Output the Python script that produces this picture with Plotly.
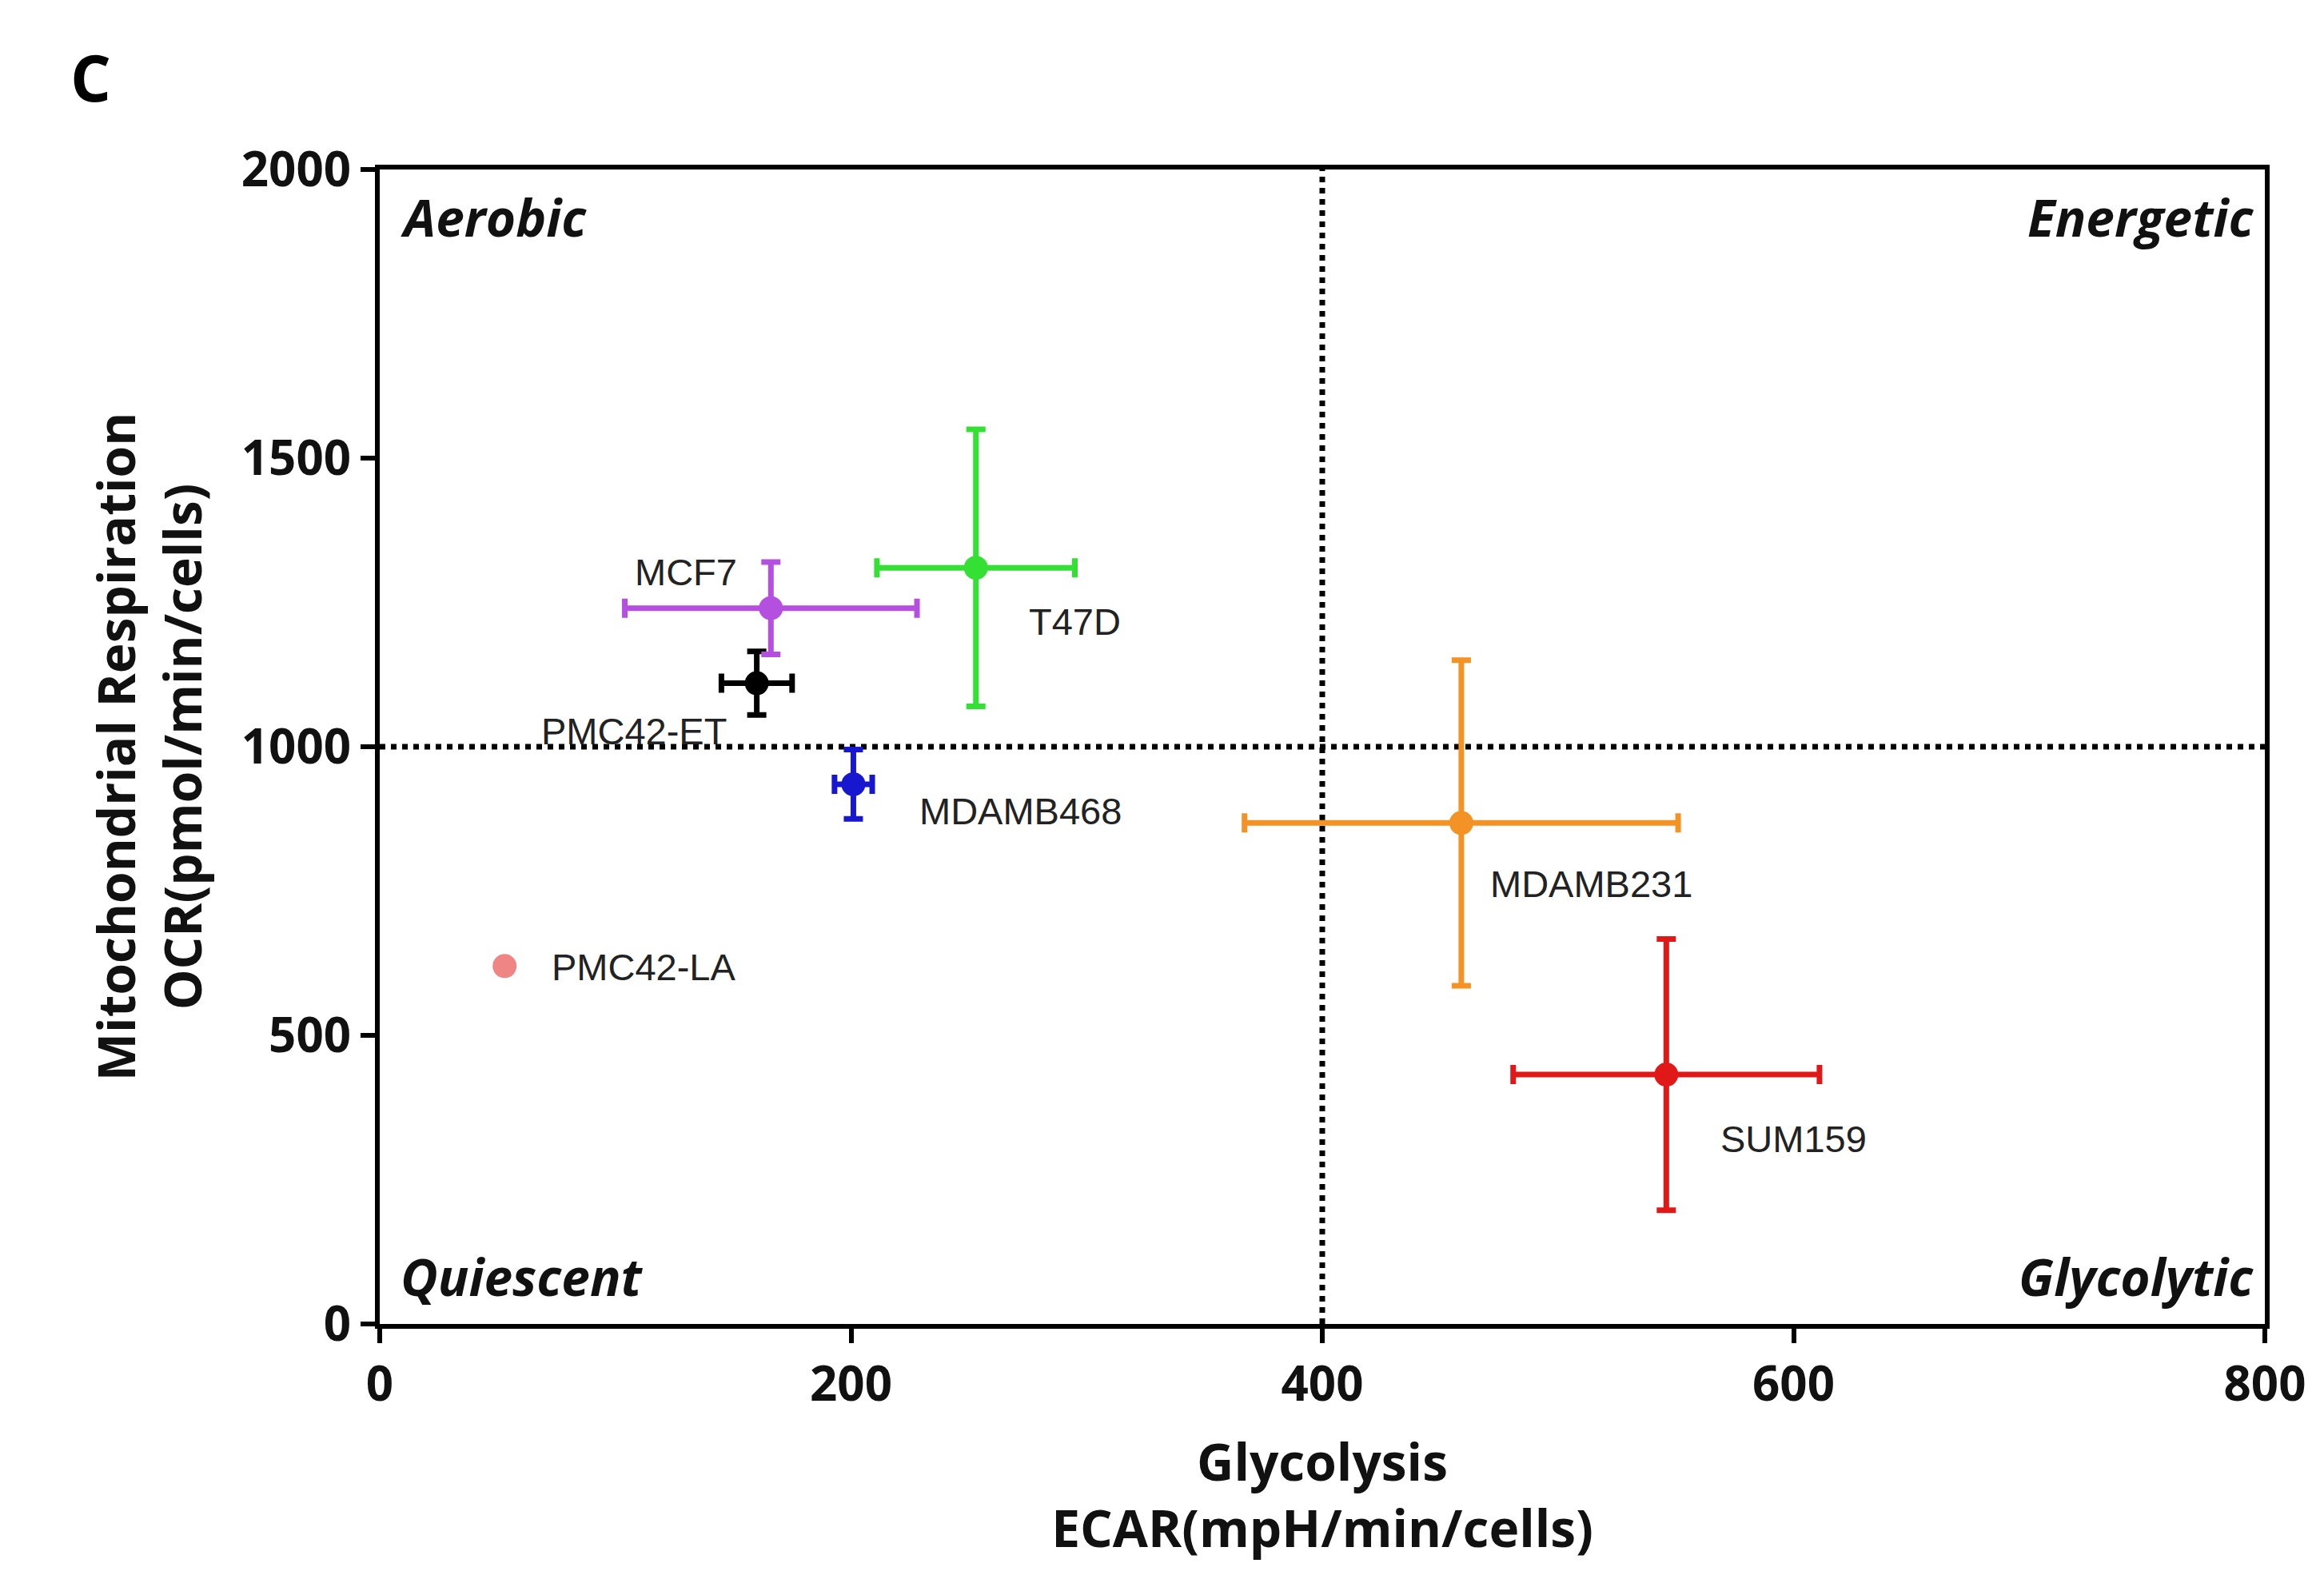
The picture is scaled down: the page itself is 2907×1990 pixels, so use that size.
import plotly.graph_objects as go

# cell lines: glycolysis (ECAR) vs mitochondrial respiration (OCR)
cells = ["PMC42-LA", "PMC42-ET", "MCF7", "T47D", "MDAMB468", "MDAMB231", "SUM159"]
ecar = [53, 160, 166, 253, 201, 459, 546]
ecar_err = [0, 15, 62, 42, 8, 92, 65]
ocr = [620, 1110, 1240, 1310, 935, 868, 432]
ocr_err = [0, 55, 80, 240, 60, 282, 235]
colors = ["#f08585", "#000000", "#b54fe0", "#33e033", "#1717d0", "#f39325", "#e01818"]
label_x = [112, 108, 130, 295, 272, 514, 600]
label_y = [619, 1027, 1302, 1217, 888, 762, 321]

quadrants = ["Aerobic", "Energetic", "Quiescent", "Glycolytic"]

fig = go.Figure()

for i, name in enumerate(cells):
    fig.add_trace(go.Scatter(
        x=[ecar[i]], y=[ocr[i]], mode="markers", name=name,
        marker=dict(size=30, color=colors[i]),
        error_x=dict(type="data", array=[ecar_err[i]], color=colors[i], thickness=7, width=12, visible=ecar_err[i] > 0),
        error_y=dict(type="data", array=[ocr_err[i]], color=colors[i], thickness=7, width=12, visible=ocr_err[i] > 0),
        showlegend=False,
    ))
    fig.add_annotation(x=label_x[i], y=label_y[i], text=name, showarrow=False,
                       font=dict(family="Liberation Sans", size=47, color="#222222"))

# dotted quadrant dividers
fig.add_shape(type="line", x0=400, x1=400, y0=0, y1=2000, line=dict(color="black", width=7, dash="dot"), layer="below")
fig.add_shape(type="line", x0=0, x1=800, y0=1000, y1=1000, line=dict(color="black", width=7, dash="dot"), layer="below")

qpos = [(0.01, 0.99, "left", "top"), (0.995, 0.99, "right", "top"),
        (0.01, 0.01, "left", "bottom"), (0.995, 0.01, "right", "bottom")]
for q, (qx, qy, xa, ya) in zip(quadrants, qpos):
    fig.add_annotation(xref="x domain", yref="y domain", x=qx, y=qy, xanchor=xa, yanchor=ya,
                       text="<b><i>" + q + "</i></b>", showarrow=False,
                       font=dict(family="Open Sans", size=64, color="#111111"))

fig.add_annotation(xref="paper", yref="paper", x=-0.165, y=1.12, text="<b>C</b>", showarrow=False,
                   font=dict(family="Open Sans", size=80, color="black"))

axis_common = dict(showgrid=False, zeroline=False, showline=True, linecolor="black", linewidth=6,
                   ticks="outside", ticklen=18, tickwidth=6, tickcolor="black", mirror=True,
                   tickfont=dict(family="Open Sans", size=60, color="#111111", weight="bold"))

fig.update_xaxes(range=[0, 800], tickvals=[0, 200, 400, 600, 800],
                 title=dict(text="<b>Glycolysis<br>ECAR(mpH/min/cells)</b>",
                            font=dict(family="Open Sans", size=64, color="#111111"), standoff=40),
                 **axis_common)
fig.update_yaxes(range=[0, 2000], tickvals=[0, 500, 1000, 1500, 2000],
                 title=dict(text="<b>Mitochondrial Respiration<br>OCR(pmol/min/cells)</b>",
                            font=dict(family="Open Sans", size=64, color="#111111"), standoff=30),
                 **axis_common)

fig.update_layout(width=2907, height=1990, plot_bgcolor="white", paper_bgcolor="white",
                  margin=dict(l=467, r=82, t=204, b=342))

fig.write_html("out.html")
